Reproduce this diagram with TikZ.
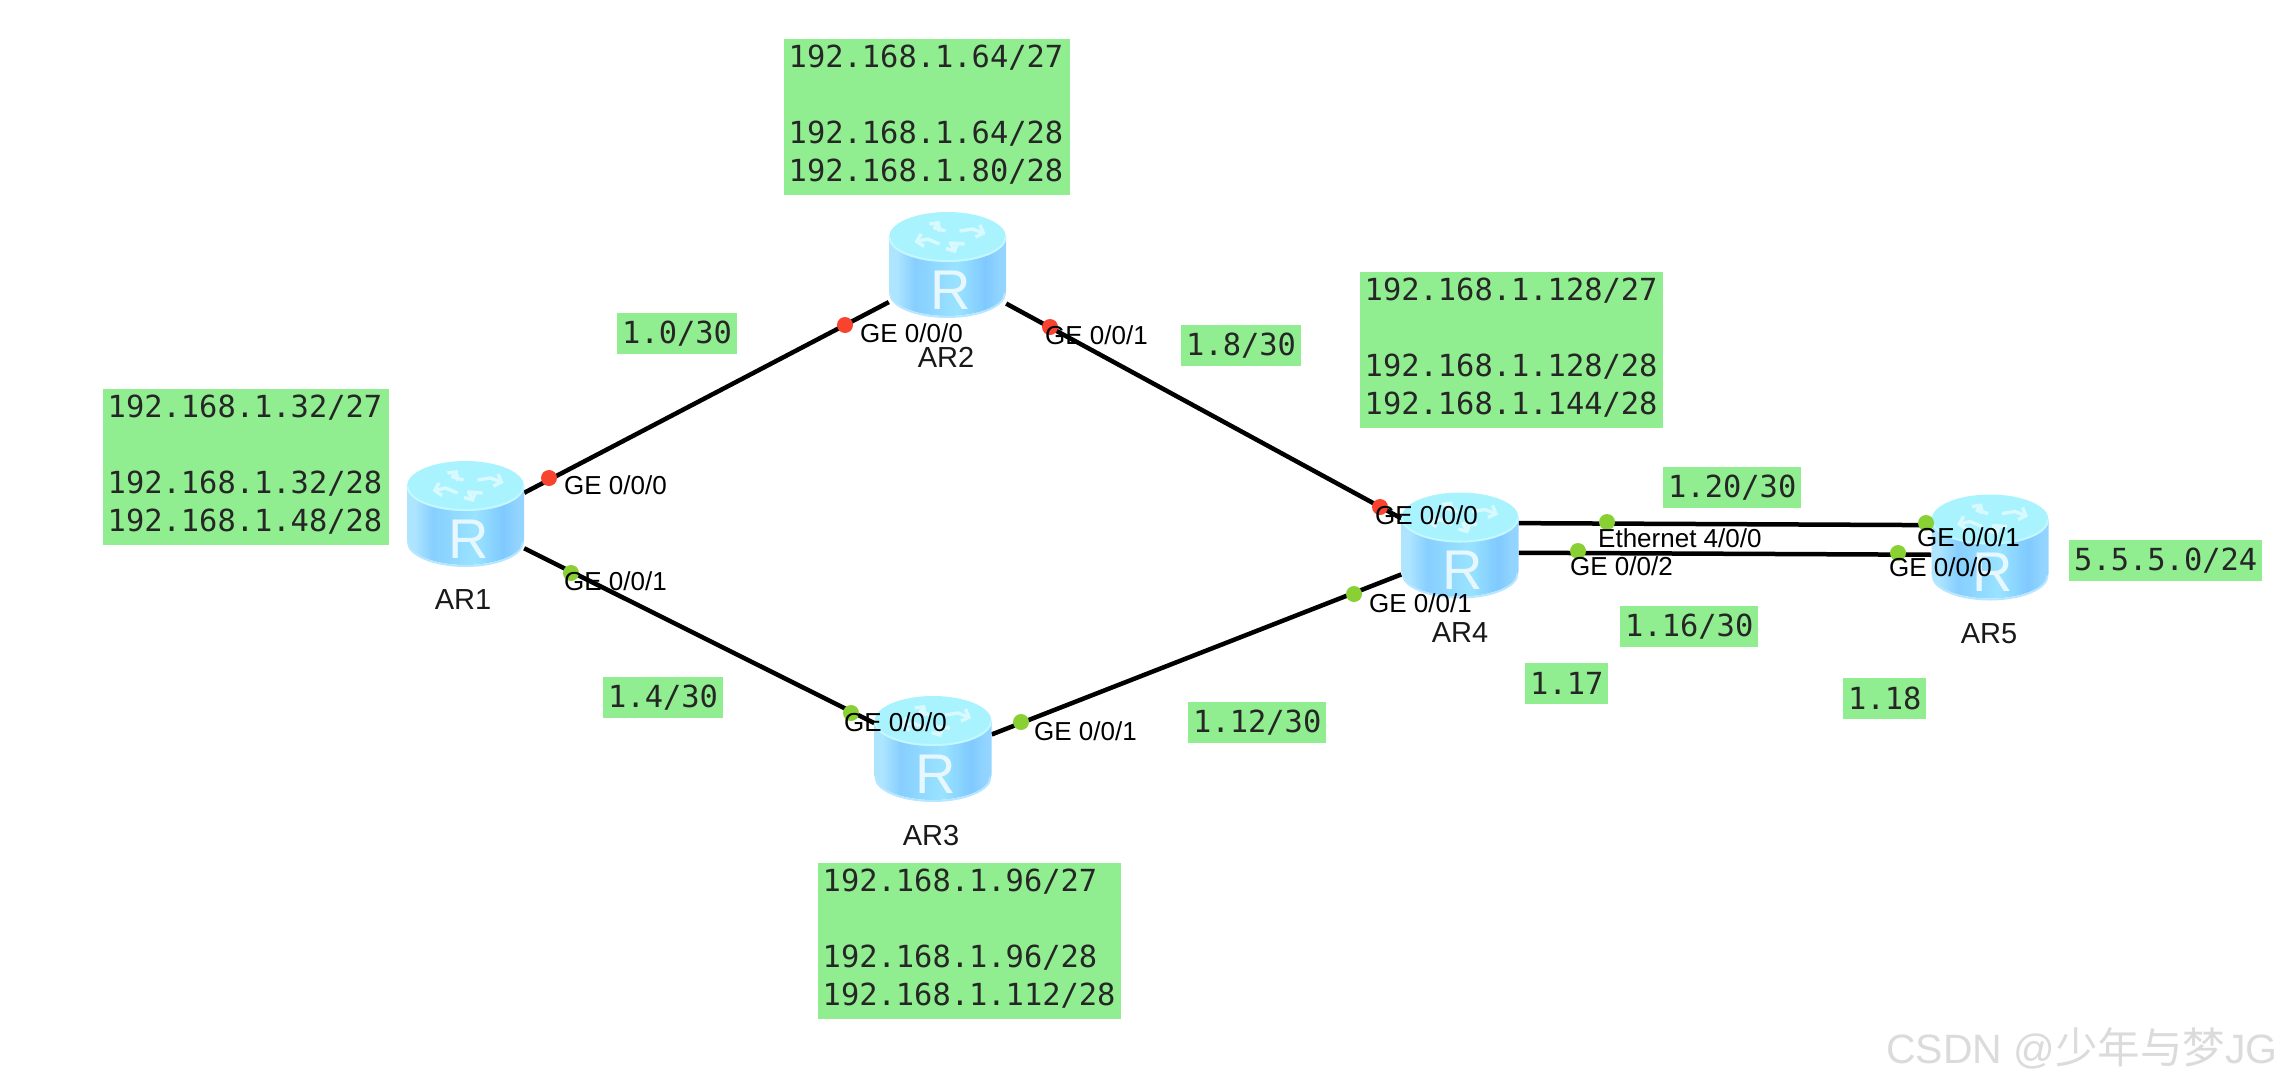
\documentclass[tikz,border=0pt]{standalone}
\usepackage{fontspec}
\setmainfont{Liberation Sans}
\setmonofont{DejaVu Sans Mono}
\newfontfamily\wmcjk{Noto Sans CJK SC}
\usetikzlibrary{arrows.meta}
\definecolor{netgreen}{HTML}{90EE90}
\definecolor{portred}{HTML}{F8432F}
\definecolor{portgreen}{HTML}{88D034}
\definecolor{rtop}{HTML}{A9F3FF}
\definecolor{rrim}{HTML}{C4F7FF}
\definecolor{rbase}{HTML}{B8E6FF}
\definecolor{rarrow}{HTML}{D8FAFF}
\pgfdeclarehorizontalshading{rtrbody}{100bp}{
  rgb(0bp)=(0.68,0.90,1);
  rgb(28bp)=(0.68,0.90,1);
  rgb(36bp)=(0.53,0.81,1);
  rgb(54bp)=(0.60,0.89,1);
  rgb(66bp)=(0.50,0.79,1);
  rgb(72bp)=(0.57,0.83,1);
  rgb(100bp)=(0.68,0.90,1)}
\tikzset{
  x=1pt,y=-1pt,
  link/.style={line width=4.5pt,black},
  rnode/.style={rectangle,inner sep=0pt,minimum width=117pt,minimum height=104pt},
  redport/.style={circle,fill=portred,inner sep=0pt,minimum size=16pt},
  greenport/.style={circle,fill=portgreen,inner sep=0pt,minimum size=16pt},
  portlabel/.style={anchor=west,inner sep=0pt,font=\fontsize{26}{30}\selectfont},
  rname/.style={inner sep=0pt,font=\fontsize{29}{32}\selectfont,text=black!90},
  netbox/.style={fill=netgreen,anchor=north west,align=left,inner ysep=0pt,
    text=black!85,font=\ttfamily\fontsize{30.4}{38}\selectfont},
  bigbox/.style={netbox,inner xsep=4.5pt,minimum height=156pt},
  box15/.style={bigbox,text width=277pt},
  box16/.style={bigbox,text width=294pt},
  smallbox/.style={netbox,minimum height=41pt,inner xsep=5pt},
  rarr/.style={draw=rarrow,line width=3.4pt,line join=round,-{Straight Barb[length=6pt,width=13pt]}},
  routericon/.pic={
    \shade[shading=rtrbody] (-58.5,-27) -- (-58.5,27)
      arc[start angle=180,end angle=360,x radius=58.5pt,y radius=25pt] -- (58.5,-27) -- cycle;
    \draw[rbase,line width=2pt] (-57.5,29) arc[start angle=180,end angle=360,x radius=57.5pt,y radius=24pt];
    \fill[rtop] (0,-27) ellipse[x radius=58.5pt,y radius=25pt];
    \draw[rrim,line width=2pt] (-58,-27) arc[start angle=180,end angle=360,x radius=58pt,y radius=24pt];
    \draw[rarr] (-2,-33) -- (-13,-36) -- (-8,-43);
    \draw[rarr] (12,-33) -- (25,-35) -- (38,-30);
    \draw[rarr] (-8,-20) -- (-20,-25) -- (-33,-22);
    \draw[rarr] (17,-20) -- (3,-21) -- (8,-11);
    \node (-R) [inner sep=0pt,text=white!90!cyan,font=\fontsize{56}{60}\selectfont] at (3,26) {R};
  }
}
\begin{document}
\begin{tikzpicture}
\useasboundingbox (0,0) rectangle (2283,1087);
% router anchors
\node[rnode] (AR1) at (465.5,513) {};
\node[rnode] (AR2) at (947.5,264) {};
\node[rnode] (AR3) at (933,748) {};
\node[rnode] (AR4) at (1460,544.5) {};
\node[rnode] (AR5) at (1990,546.5) {};
% links
\draw[link] (AR1.19.7) -- (AR2.213);
\draw[link] (AR2.-34) -- (AR4.156.3);
\draw[link] (AR1.-31.5) -- (AR3.157.7);
\draw[link] (AR3.13.5) -- (AR4.207);
\draw[link] (AR4.20.3) -- (AR5.160.5);
\draw[link] (AR4.-8.3) -- (AR5.188.3);
% router icons
\pic (AR1i) at (AR1) {routericon};
\pic (AR2i) at (AR2) {routericon};
\pic (AR3i) at (AR3) {routericon};
\pic (AR4i) at (AR4) {routericon};
\pic (AR5i) at (AR5) {routericon};
% router names
\node[rname] (nAR1) at (463,600) {AR1};
\node[rname] (nAR2) at (946,357) {AR2};
\node[rname] (nAR3) at (931,836) {AR3};
\node[rname] (nAR4) at (1460,633) {AR4};
\node[rname] (nAR5) at (1989,634) {AR5};
% ports
\node[redport] (d1) at (549,478) {};
\node[greenport] (d2) at (571,573) {};
\node[redport] (d3) at (845,325) {};
\node[redport] (d4) at (1050,327) {};
\node[greenport] (d5) at (851,713) {};
\node[greenport] (d6) at (1021,722) {};
\node[redport] (d7) at (1380,507) {};
\node[greenport] (d8) at (1354,594) {};
\node[greenport] (d9) at (1607,522) {};
\node[greenport] (d10) at (1578,551) {};
\node[greenport] (d11) at (1926,523) {};
\node[greenport] (d12) at (1898,553) {};
% port labels
\node[portlabel] (l1) at (564,485) {GE 0/0/0};
\node[portlabel] (l2) at (564,581) {GE 0/0/1};
\node[portlabel] (l3) at (860,333) {GE 0/0/0};
\node[portlabel] (l4) at (1045,335) {GE 0/0/1};
\node[portlabel] (l5) at (844,722) {GE 0/0/0};
\node[portlabel] (l6) at (1034,731) {GE 0/0/1};
\node[portlabel] (l7) at (1375,515) {GE 0/0/0};
\node[portlabel] (l8) at (1369,603) {GE 0/0/1};
\node[portlabel] (l9) at (1598,538) {Ethernet 4/0/0};
\node[portlabel] (l10) at (1570,566) {GE 0/0/2};
\node[portlabel] (l11) at (1917,537) {GE 0/0/1};
\node[portlabel] (l12) at (1889,567) {GE 0/0/0};
% subnet boxes
\node[box15] (b1) at (103,389) {192.168.1.32/27\\[38pt]192.168.1.32/28\\192.168.1.48/28\par\vspace{5pt}};
\node[box15] (b2) at (784,39) {192.168.1.64/27\\[38pt]192.168.1.64/28\\192.168.1.80/28\par\vspace{5pt}};
\node[box16] (b3) at (1360,272) {192.168.1.128/27\\[38pt]192.168.1.128/28\\192.168.1.144/28\par\vspace{5pt}};
\node[box16] (b4) at (818,863) {192.168.1.96/27\\[38pt]192.168.1.96/28\\192.168.1.112/28\par\vspace{5pt}};
\node[smallbox] (s1) at (617,313) {1.0/30};
\node[smallbox] (s2) at (1181,325) {1.8/30};
\node[smallbox] (s3) at (603,677) {1.4/30};
\node[smallbox] (s4) at (1188,702) {1.12/30};
\node[smallbox] (s5) at (1663,467) {1.20/30};
\node[smallbox] (s6) at (1620,606) {1.16/30};
\node[smallbox] (s7) at (1525,663) {1.17};
\node[smallbox] (s8) at (1843,678) {1.18};
\node[smallbox] (s9) at (2069,540) {5.5.5.0/24};
% watermark
\node[anchor=base west,inner sep=0pt,text=black!14,font=\fontsize{41}{46}\selectfont] (wm) at (1886,1063)
  {CSDN @{\wmcjk\fontsize{42.5}{46}\selectfont 少年与梦}JG};
\end{tikzpicture}
\end{document}
